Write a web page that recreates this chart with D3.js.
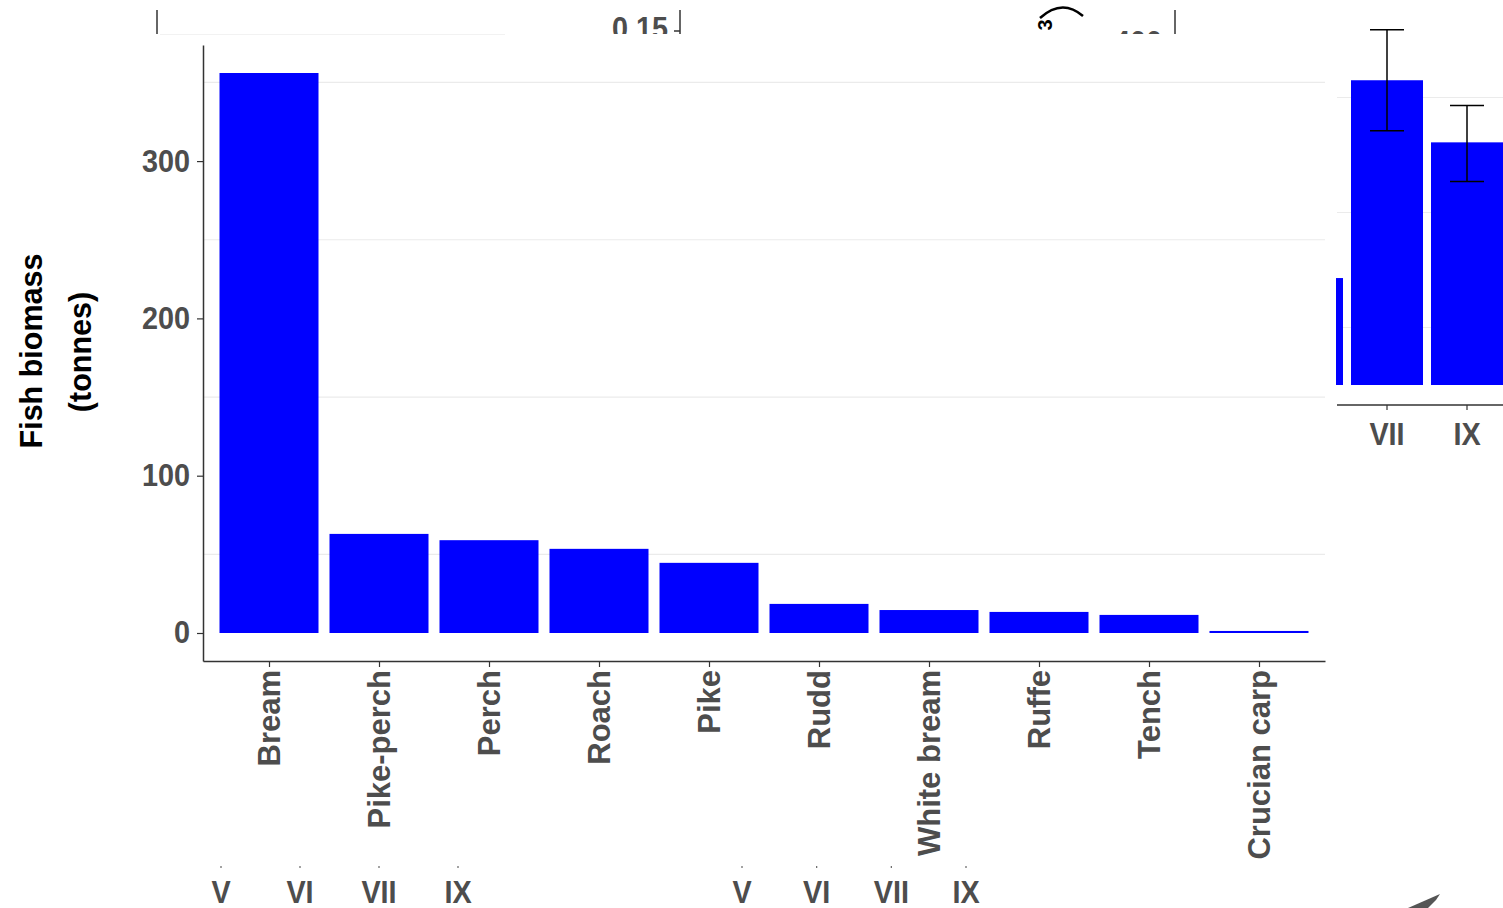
<!DOCTYPE html>
<html>
<head>
<meta charset="utf-8">
<script src="https://cdn.jsdelivr.net/npm/d3@7"></script>
<style>
body { margin: 0; background: white; }
text { font-family: "Liberation Sans", Arial, sans-serif; font-weight: bold; }
</style>
</head>
<body>
<script>
// main chart data
var species = ['Bream', 'Pike-perch', 'Perch', 'Roach', 'Pike', 'Rudd', 'White bream', 'Ruffe', 'Tench', 'Crucian carp'];
var biomass = [356, 63, 59, 53.5, 44.6, 18.5, 14.6, 13.4, 11.5, 1.3];
var yTicks = [0, 100, 200, 300];
var yGrid = [50, 150, 250, 350];

// pieces of neighbouring panels that show around the main chart
var months = ['V', 'VI', 'VII', 'IX'];
var sideMonths = ['VI', 'VII', 'IX'];
var sideValues = [93, 265, 211];
var sideLow = [null, 221, 177];
var sideHigh = [null, 309, 243];
var sideGrid = [50, 150, 250];

var svg = d3.select('body').append('svg')
    .attr('width', 1503)
    .attr('height', 908);

svg.append('rect')
    .attr('width', 1503)
    .attr('height', 908)
    .attr('fill', 'white');

// ---- background fragments ----
var back = svg.append('g');

back.append('line')
    .attr('x1', 157).attr('x2', 157)
    .attr('y1', 10).attr('y2', 34)
    .attr('stroke', '#333').attr('stroke-width', 1.5);

back.append('text')
    .attr('transform', 'translate(668,39) scale(0.93,1)')
    .attr('text-anchor', 'end')
    .attr('font-size', 31)
    .attr('fill', '#4D4D4D')
    .text('0.15');

back.append('line')
    .attr('x1', 680).attr('x2', 680)
    .attr('y1', 10).attr('y2', 34)
    .attr('stroke', '#333').attr('stroke-width', 1.5);
back.append('line')
    .attr('x1', 674).attr('x2', 680)
    .attr('y1', 31).attr('y2', 31)
    .attr('stroke', '#333').attr('stroke-width', 1.5);

back.append('text')
    .attr('transform', 'translate(1052,25) rotate(-90)')
    .attr('text-anchor', 'middle')
    .attr('font-size', 20)
    .attr('fill', 'black')
    .text('3');

back.append('path')
    .attr('d', 'M1040,18 Q1062,-2 1083,16')
    .attr('fill', 'none')
    .attr('stroke', 'black')
    .attr('stroke-width', 2.5);

back.append('text')
    .attr('transform', 'translate(1162,53) scale(0.93,1)')
    .attr('text-anchor', 'end')
    .attr('font-size', 31)
    .attr('fill', '#4D4D4D')
    .text('400');

back.append('line')
    .attr('x1', 1175).attr('x2', 1175)
    .attr('y1', 10).attr('y2', 34)
    .attr('stroke', '#333').attr('stroke-width', 1.5);

// right-hand panel
var sx = d3.scalePoint().domain(months).range([1179, 1515]).padding(0.6);
var sy = d3.scaleLinear().domain([0, 300]).range([385, 40]);
var sbw = sx.step() * 0.9;

back.selectAll('.sgrid')
    .data(sideGrid)
    .enter().append('line')
    .attr('x1', 1337).attr('x2', 1503)
    .attr('y1', function(d) { return sy(d); })
    .attr('y2', function(d) { return sy(d); })
    .attr('stroke', '#EBEBEB').attr('stroke-width', 1.2);

back.selectAll('.sbar')
    .data(sideMonths)
    .enter().append('rect')
    .attr('x', function(d) { return sx(d) - sbw / 2; })
    .attr('y', function(d, i) { return sy(sideValues[i]); })
    .attr('width', sbw)
    .attr('height', function(d, i) { return sy(0) - sy(sideValues[i]); })
    .attr('fill', '#0000FF');

sideMonths.forEach(function(m, i) {
    if (sideLow[i] == null) return;
    var cx = sx(m);
    back.append('line')
        .attr('x1', cx).attr('x2', cx)
        .attr('y1', sy(sideHigh[i])).attr('y2', sy(sideLow[i]))
        .attr('stroke', 'black').attr('stroke-width', 1.5);
    back.append('line')
        .attr('x1', cx - 17).attr('x2', cx + 17)
        .attr('y1', sy(sideHigh[i])).attr('y2', sy(sideHigh[i]))
        .attr('stroke', 'black').attr('stroke-width', 1.5);
    back.append('line')
        .attr('x1', cx - 17).attr('x2', cx + 17)
        .attr('y1', sy(sideLow[i])).attr('y2', sy(sideLow[i]))
        .attr('stroke', 'black').attr('stroke-width', 1.5);
});

back.append('line')
    .attr('x1', 1337).attr('x2', 1503)
    .attr('y1', 405).attr('y2', 405)
    .attr('stroke', '#333').attr('stroke-width', 1.5);

back.selectAll('.stick')
    .data(['VII', 'IX'])
    .enter().append('line')
    .attr('x1', function(d) { return sx(d); })
    .attr('x2', function(d) { return sx(d); })
    .attr('y1', 405).attr('y2', 410)
    .attr('stroke', '#333').attr('stroke-width', 1.2);

back.selectAll('.slab')
    .data(['VII', 'IX'])
    .enter().append('text')
    .attr('transform', function(d) { return 'translate(' + sx(d) + ',445) scale(0.93,1)'; })
    .attr('text-anchor', 'middle')
    .attr('font-size', 31)
    .attr('fill', '#4D4D4D')
    .text(function(d) { return d; });

// month labels along the bottom edge
var bx1 = d3.scalePoint().domain(months).range([221, 458]);
var bx2 = d3.scalePoint().domain(months).range([742, 966]);

[bx1, bx2].forEach(function(bx) {
    back.selectAll(null)
        .data(months)
        .enter().append('line')
        .attr('x1', function(d) { return bx(d); })
        .attr('x2', function(d) { return bx(d); })
        .attr('y1', 866).attr('y2', 868)
        .attr('stroke', '#666').attr('stroke-width', 1.2);
    back.selectAll(null)
        .data(months)
        .enter().append('text')
        .attr('transform', function(d) { return 'translate(' + bx(d) + ',903) scale(0.93,1)'; })
        .attr('text-anchor', 'middle')
        .attr('font-size', 31)
        .attr('fill', '#4D4D4D')
        .text(function(d) { return d; });
});

back.append('path')
    .attr('d', 'M1408,908 L1440,894 L1436,900 L1428,908 Z')
    .attr('fill', '#555');

// ---- main chart ----
svg.append('rect')
    .attr('x', 0).attr('y', 34)
    .attr('width', 1336).attr('height', 828)
    .attr('fill', 'white');

svg.append('line')
    .attr('x1', 160).attr('x2', 505)
    .attr('y1', 34.5).attr('y2', 34.5)
    .attr('stroke', '#F2F2F2').attr('stroke-width', 1);

var x = d3.scalePoint().domain(species).range([203, 1325]).padding(0.6);
var y = d3.scaleLinear().domain([-17.8, 373.8]).range([661, 45]);
var bw = x.step() * 0.9;

var chart = svg.append('g');

chart.selectAll('.grid')
    .data(yGrid)
    .enter().append('line')
    .attr('x1', 203).attr('x2', 1325)
    .attr('y1', function(d) { return y(d); })
    .attr('y2', function(d) { return y(d); })
    .attr('stroke', '#EBEBEB').attr('stroke-width', 1.2);

chart.selectAll('.bar')
    .data(species)
    .enter().append('rect')
    .attr('x', function(d) { return x(d) - bw / 2; })
    .attr('y', function(d, i) { return y(biomass[i]); })
    .attr('width', bw)
    .attr('height', function(d, i) { return y(0) - y(biomass[i]); })
    .attr('fill', '#0000FF');

var yAxis = chart.append('g')
    .attr('transform', 'translate(203,0)')
    .call(d3.axisLeft(y).tickValues(yTicks).tickSizeInner(6).tickSizeOuter(0).tickPadding(6));

var xAxis = chart.append('g')
    .attr('transform', 'translate(0,661)')
    .call(d3.axisBottom(x).tickSizeInner(6).tickSizeOuter(0).tickPadding(6));

[yAxis, xAxis].forEach(function(ax) {
    ax.select('.domain').attr('stroke', '#333').attr('stroke-width', 1.5);
    ax.selectAll('.tick line').attr('stroke', '#333').attr('stroke-width', 1.2);
    ax.selectAll('text')
        .attr('font-family', '"Liberation Sans", Arial, sans-serif')
        .attr('font-weight', 'bold')
        .attr('font-size', 31)
        .attr('fill', '#4D4D4D');
});

yAxis.selectAll('.tick text')
    .attr('transform', 'translate(-13,0) scale(0.93,1)')
    .attr('x', 0);

xAxis.selectAll('text')
    .attr('transform', 'rotate(-90)')
    .attr('text-anchor', 'end')
    .attr('x', -9)
    .attr('y', 0)
    .attr('dy', '0.35em');

chart.append('text')
    .attr('transform', 'translate(42,351) rotate(-90)')
    .attr('text-anchor', 'middle')
    .attr('font-size', 30.5)
    .attr('fill', 'black')
    .text('Fish biomass');

chart.append('text')
    .attr('transform', 'translate(91,352) rotate(-90)')
    .attr('text-anchor', 'middle')
    .attr('font-size', 30.5)
    .attr('fill', 'black')
    .text('(tonnes)');
</script>
</body>
</html>
